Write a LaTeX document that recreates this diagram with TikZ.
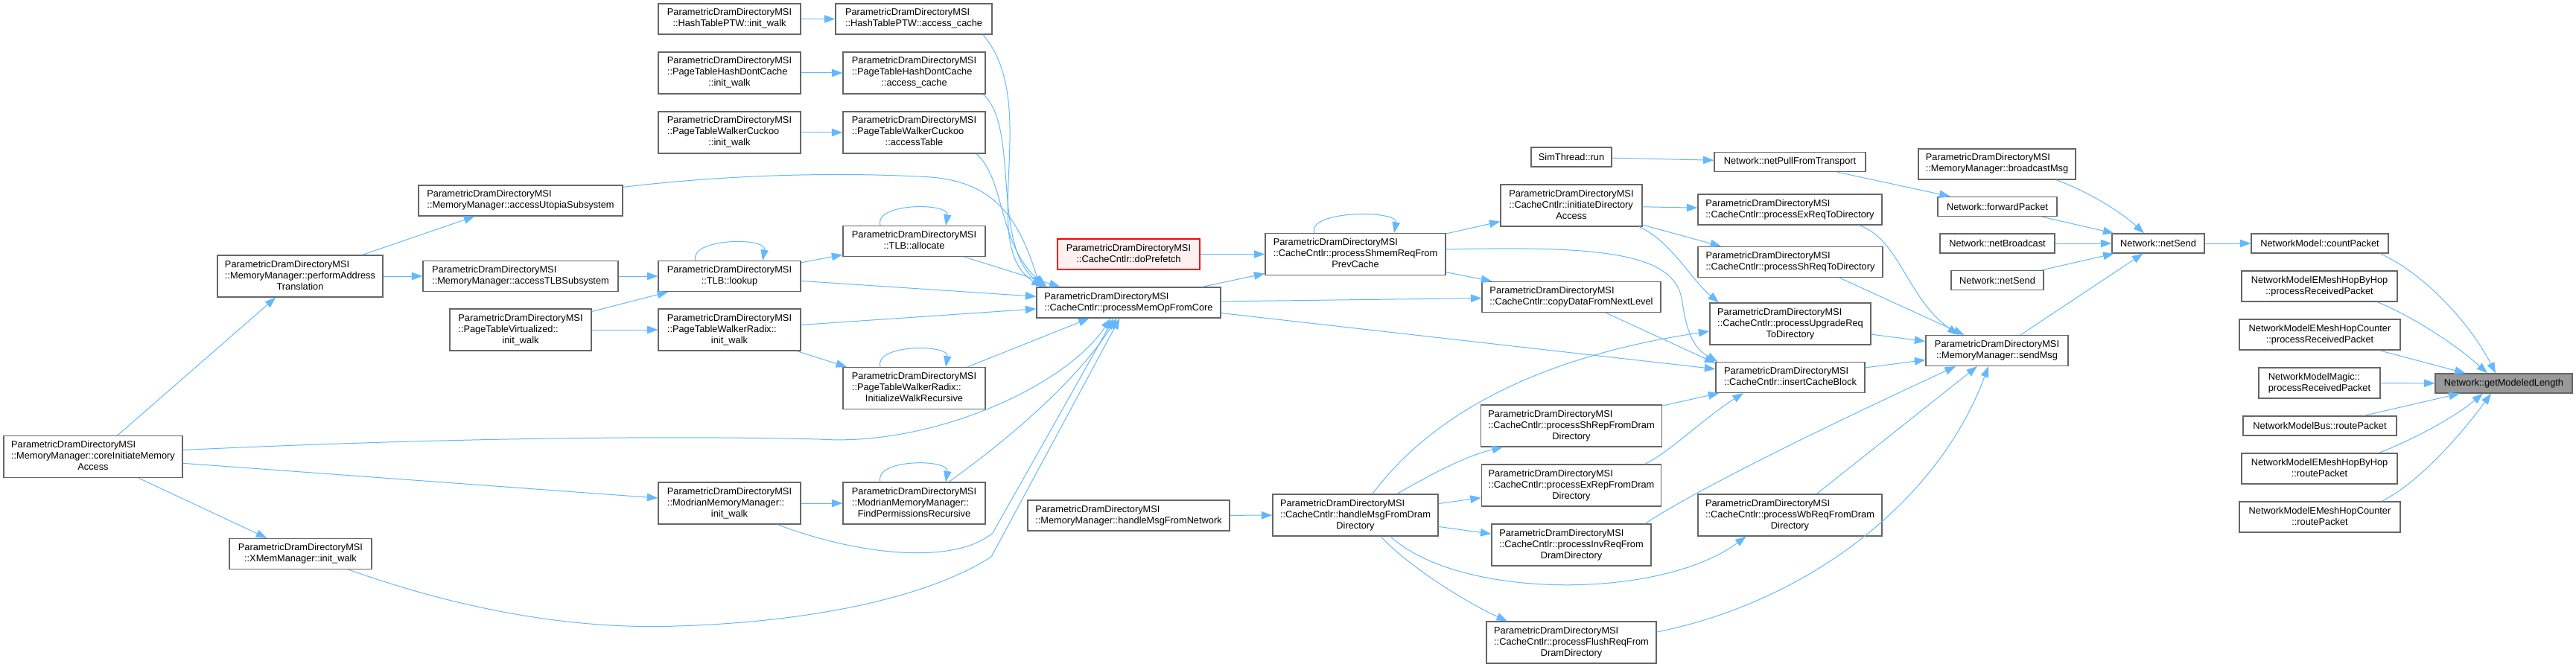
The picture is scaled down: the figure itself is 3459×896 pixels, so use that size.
\documentclass[tikz,border=0pt]{standalone}
\usepackage{fontspec}
\setmainfont{Liberation Sans}
\usetikzlibrary{arrows.meta}
\definecolor{edgeblue}{HTML}{63B8FF}
\definecolor{boxline}{HTML}{666666}
\definecolor{hilite}{HTML}{999999}
\definecolor{pinkfill}{HTML}{FFF0F0}
\definecolor{redline}{HTML}{FF0000}
\newcommand{\lbl}[2]{\begin{tabular}{@{}l@{}}#1\\\multicolumn{1}{@{}c@{}}{#2}\end{tabular}}

\begin{document}
\begin{tikzpicture}[x=1pt,y=-1pt,>={Triangle[length=14.5pt,width=10.5pt]},
  every node/.style={font=\fontsize{12.8}{15}\selectfont},
  box/.style={draw=boxline,line width=1.3pt,fill=white,inner sep=0pt},
  h1/.style={box,minimum height=26pt},
  h2/.style={box,minimum height=41pt},
  h3/.style={box,minimum height=56pt},
  call/.style={->,draw=edgeblue,line width=1pt}]
\useasboundingbox (0,0) rectangle (3459,896);

\node[h3,minimum width=240pt] (core) at (125,613.5) {\lbl{ParametricDramDirectoryMSI\\::MemoryManager::coreInitiateMemory}{Access}};
\node[h3,minimum width=222pt] (perf) at (403,371) {\lbl{ParametricDramDirectoryMSI\\::MemoryManager::performAddress}{Translation}};
\node[h2,minimum width=191pt] (xmem) at (403.5,744) {\lbl{ParametricDramDirectoryMSI}{::XMemManager::init\_walk}};
\node[h2,minimum width=274pt] (utopia) at (699,269.5) {\lbl{ParametricDramDirectoryMSI}{::MemoryManager::accessUtopiaSubsystem}};
\node[h2,minimum width=262pt] (tlbsub) at (699,371) {\lbl{ParametricDramDirectoryMSI}{::MemoryManager::accessTLBSubsystem}};
\node[h3,minimum width=190pt] (ptvirt) at (699,443) {\lbl{ParametricDramDirectoryMSI\\::PageTableVirtualized::}{init\_walk}};
\node[h2,minimum width=191pt] (hashinit) at (979.5,25.5) {\lbl{ParametricDramDirectoryMSI}{::HashTablePTW::init\_walk}};
\node[h3,minimum width=191pt] (hdcinit) at (979.5,98) {\lbl{ParametricDramDirectoryMSI\\::PageTableHashDontCache}{::init\_walk}};
\node[h3,minimum width=191pt] (cuckinit) at (979.5,178) {\lbl{ParametricDramDirectoryMSI\\::PageTableWalkerCuckoo}{::init\_walk}};
\node[h2,minimum width=191pt] (lookup) at (979.5,371) {\lbl{ParametricDramDirectoryMSI}{::TLB::lookup}};
\node[h3,minimum width=191pt] (radixinit) at (979.5,443) {\lbl{ParametricDramDirectoryMSI\\::PageTableWalkerRadix::}{init\_walk}};
\node[h3,minimum width=191pt] (modinit) at (979.5,676) {\lbl{ParametricDramDirectoryMSI\\::ModrianMemoryManager::}{init\_walk}};
\node[h2,minimum width=210pt] (hashacc) at (1227,25.5) {\lbl{ParametricDramDirectoryMSI}{::HashTablePTW::access\_cache}};
\node[h3,minimum width=191pt] (hdcacc) at (1227.5,98) {\lbl{ParametricDramDirectoryMSI\\::PageTableHashDontCache}{::access\_cache}};
\node[h3,minimum width=191pt] (cuckacc) at (1227.5,178) {\lbl{ParametricDramDirectoryMSI\\::PageTableWalkerCuckoo}{::accessTable}};
\node[h2,minimum width=191pt] (alloc) at (1227.5,324) {\lbl{ParametricDramDirectoryMSI}{::TLB::allocate}};
\node[h3,minimum width=191pt] (initrec) at (1227.5,521.5) {\lbl{ParametricDramDirectoryMSI\\::PageTableWalkerRadix::}{InitializeWalkRecursive}};
\node[h3,minimum width=191pt] (findperm) at (1227.5,676) {\lbl{ParametricDramDirectoryMSI\\::ModrianMemoryManager::}{FindPermissionsRecursive}};
\node[h2,minimum width=191pt,draw=redline,fill=pinkfill] (prefetch) at (1515.5,341.5) {\lbl{ParametricDramDirectoryMSI}{::CacheCntlr::doPrefetch}};
\node[h2,minimum width=247pt] (memop) at (1515.5,406.5) {\lbl{ParametricDramDirectoryMSI}{::CacheCntlr::processMemOpFromCore}};
\node[h2,minimum width=271pt] (hmnet) at (1515.5,692.5) {\lbl{ParametricDramDirectoryMSI}{::MemoryManager::handleMsgFromNetwork}};
\node[h3,minimum width=242pt] (shmem) at (1820,341.5) {\lbl{ParametricDramDirectoryMSI\\::CacheCntlr::processShmemReqFrom}{PrevCache}};
\node[h3,minimum width=222pt] (hmdram) at (1820,692) {\lbl{ParametricDramDirectoryMSI\\::CacheCntlr::handleMsgFromDram}{Directory}};
\node[h1,minimum width=108pt] (simrun) at (2110,211) {SimThread::run};
\node[h3,minimum width=190pt] (initdir) at (2110,276) {\lbl{ParametricDramDirectoryMSI\\::CacheCntlr::initiateDirectory}{Access}};
\node[h2,minimum width=240pt] (copydata) at (2110,399) {\lbl{ParametricDramDirectoryMSI}{::CacheCntlr::copyDataFromNextLevel}};
\node[h3,minimum width=243pt] (shrep) at (2110,572) {\lbl{ParametricDramDirectoryMSI\\::CacheCntlr::processShRepFromDram}{Directory}};
\node[h3,minimum width=241pt] (exrep) at (2110,652) {\lbl{ParametricDramDirectoryMSI\\::CacheCntlr::processExRepFromDram}{Directory}};
\node[h3,minimum width=214pt] (invreq) at (2110,732) {\lbl{ParametricDramDirectoryMSI\\::CacheCntlr::processInvReqFrom}{DramDirectory}};
\node[h3,minimum width=228pt] (flushreq) at (2110,863) {\lbl{ParametricDramDirectoryMSI\\::CacheCntlr::processFlushReqFrom}{DramDirectory}};
\node[h1,minimum width=203pt] (pull) at (2403.5,217.5) {Network::netPullFromTransport};
\node[h2,minimum width=247pt] (exreq) at (2403.5,281.5) {\lbl{ParametricDramDirectoryMSI}{::CacheCntlr::processExReqToDirectory}};
\node[h2,minimum width=248pt] (shreq) at (2404,352) {\lbl{ParametricDramDirectoryMSI}{::CacheCntlr::processShReqToDirectory}};
\node[h3,minimum width=216pt] (upgr) at (2404,435) {\lbl{ParametricDramDirectoryMSI\\::CacheCntlr::processUpgradeReq}{ToDirectory}};
\node[h2,minimum width=200pt] (insert) at (2404,507) {\lbl{ParametricDramDirectoryMSI}{::CacheCntlr::insertCacheBlock}};
\node[h3,minimum width=247pt] (wbreq) at (2403.5,692) {\lbl{ParametricDramDirectoryMSI\\::CacheCntlr::processWbReqFromDram}{Directory}};
\node[h2,minimum width=211pt] (bcast) at (2681.5,220.5) {\lbl{ParametricDramDirectoryMSI}{::MemoryManager::broadcastMsg}};
\node[h1,minimum width=160pt] (fwd) at (2682,277.5) {Network::forwardPacket};
\node[h1,minimum width=154pt] (netbc) at (2682,327) {Network::netBroadcast};
\node[h1,minimum width=124pt] (netsendl) at (2682,376.5) {Network::netSend};
\node[h2,minimum width=191pt] (sendmsg) at (2681.5,471) {\lbl{ParametricDramDirectoryMSI}{::MemoryManager::sendMsg}};
\node[h1,minimum width=124pt] (netsend) at (2898,327) {Network::netSend};
\node[h1,minimum width=184pt] (count) at (3115,327) {NetworkModel::countPacket};
\node[h2,minimum width=209pt] (hbhrecv) at (3114.5,384.5) {\lbl{NetworkModelEMeshHopByHop}{::processReceivedPacket}};
\node[h2,minimum width=216pt] (hcrecv) at (3115,449.5) {\lbl{NetworkModelEMeshHopCounter}{::processReceivedPacket}};
\node[h2,minimum width=163pt] (magic) at (3114.5,514.5) {\lbl{NetworkModelMagic::}{processReceivedPacket}};
\node[h1,minimum width=206pt] (bus) at (3115,572) {NetworkModelBus::routePacket};
\node[h2,minimum width=209pt] (hbhroute) at (3114.5,629.5) {\lbl{NetworkModelEMeshHopByHop}{::routePacket}};
\node[h2,minimum width=216pt] (hcroute) at (3115,694.5) {\lbl{NetworkModelEMeshHopCounter}{::routePacket}};
\node[h1,minimum width=184pt,fill=hilite] (target) at (3362,515) {Network::getModeledLength};

\draw[call] (core) -- (perf);
\draw[call] (core) -- (xmem);
\draw[call] (core) -- (modinit);
\draw[call] ([yshift=9pt]core.east) .. controls (600,588) and (900,585) .. (1100,590) .. controls (1250,600) and (1430,520) .. ([xshift=-24pt]memop.south);
\draw[call] (perf) -- (utopia);
\draw[call] (perf) -- (tlbsub);
\draw[call] ([xshift=64.5pt]xmem.south) .. controls (650,830) and (800,845) .. (909,841) .. controls (1100,835) and (1250,800) .. (1331,748) -- ([xshift=-12pt]memop.south);
\draw[call] ([yshift=-3pt]utopia.north east) .. controls (1000,232) and (1150,232) .. (1250,238) .. controls (1340,245) and (1370,300) .. ([xshift=-119pt]memop.north);
\draw[call] (tlbsub) -- (lookup);
\draw[call] (ptvirt) -- (lookup);
\draw[call] (ptvirt) -- (radixinit);
\draw[call] (hashinit) -- (hashacc);
\draw[call] (hdcinit) -- (hdcacc);
\draw[call] (cuckinit) -- (cuckacc);
\draw[call] ([xshift=-45.5pt]lookup.north) .. controls (925,320) and (1030,318) .. ([xshift=44.5pt]lookup.north);
\draw[call] (lookup) -- (alloc);
\draw[call] (lookup) -- (memop);
\draw[call] (radixinit) -- (memop);
\draw[call] (radixinit) -- (initrec);
\draw[call] (modinit) -- (findperm);
\draw[call] ([xshift=64.5pt]modinit.south) .. controls (1150,745) and (1280,760) .. (1333,716) -- ([xshift=-20pt]memop.south);
\draw[call] ([xshift=93pt]hashacc.south) .. controls (1400,140) and (1310,330) .. ([xshift=-116pt]memop.north);
\draw[call] ([xshift=92.5pt]hdcacc.south) .. controls (1370,170) and (1330,330) .. ([xshift=-113pt]memop.north);
\draw[call] ([xshift=83.5pt]cuckacc.south) .. controls (1350,240) and (1340,330) .. ([xshift=-110pt]memop.north);
\draw[call] ([xshift=-45.5pt]alloc.north) .. controls (1173,272) and (1275,272) .. ([xshift=42.5pt]alloc.north);
\draw[call] (alloc) -- ([xshift=-92pt]memop.north);
\draw[call] ([xshift=-45.5pt]initrec.north) .. controls (1173,462) and (1275,462) .. ([xshift=42.5pt]initrec.north);
\draw[call] (initrec) -- (memop);
\draw[call] ([xshift=-45.5pt]findperm.north) .. controls (1173,616) and (1275,616) .. ([xshift=42.5pt]findperm.north);
\draw[call] ([xshift=46.5pt]findperm.north) .. controls (1340,600) and (1440,520) .. ([xshift=-16pt]memop.south);
\draw[call] (prefetch) -- (shmem);
\draw[call] (memop) -- (shmem);
\draw[call] (memop) -- (copydata);
\draw[call] (memop) -- (insert);
\draw[call] (hmnet) -- (hmdram);
\draw[call] ([xshift=-55pt]shmem.north) .. controls (1755,282) and (1878,282) .. ([xshift=52pt]shmem.north);
\draw[call] (shmem) -- (initdir);
\draw[call] (shmem) -- (copydata);
\draw[call] ([yshift=6.5pt]shmem.east) .. controls (2150,330) and (2245,340) .. (2258,400) .. controls (2265,450) and (2275,468) .. ([xshift=3pt]insert.north west);
\draw[call] ([xshift=56pt]hmdram.north) .. controls (1925,635) and (1970,612) .. ([xshift=-92pt]shrep.south);
\draw[call] (hmdram) -- (exrep);
\draw[call] (hmdram) -- (invreq);
\draw[call] ([xshift=34pt]hmdram.south) .. controls (1890,760) and (1970,810) .. ([xshift=-86pt]flushreq.north);
\draw[call] ([xshift=47pt]hmdram.south) .. controls (1960,806) and (2230,806) .. ([xshift=-59pt]wbreq.south);
\draw[call] ([xshift=23pt]hmdram.north) .. controls (1920,560) and (2060,480) .. ([yshift=-10pt]upgr.west);
\draw[call] (simrun) -- (pull);
\draw[call] (initdir) -- (exreq);
\draw[call] (initdir) -- ([xshift=-93pt]shreq.north);
\draw[call] ([xshift=91pt]initdir.south) .. controls (2245,325) and (2270,375) .. ([xshift=-96pt]upgr.north);
\draw[call] (copydata) -- ([yshift=-2pt]insert.north west);
\draw[call] (shrep) -- (insert);
\draw[call] ([xshift=99pt]exrep.north) .. controls (2245,605) and (2290,560) .. ([xshift=-63pt]insert.south);
\draw[call] ([xshift=99pt]invreq.north) .. controls (2240,683) and (2330,629) .. ([xshift=-55.5pt]sendmsg.south);
\draw[call] ([yshift=14pt]flushreq.east) .. controls (2420,810) and (2600,680) .. ([xshift=-11.5pt]sendmsg.south);
\draw[call] (pull) -- (fwd);
\draw[call] ([xshift=92.5pt]exreq.south) .. controls (2550,320) and (2560,400) .. ([xshift=-52pt]sendmsg.north);
\draw[call] ([xshift=66pt]shreq.south) -- ([xshift=-44pt]sendmsg.north);
\draw[call] (upgr) -- (sendmsg);
\draw[call] (insert) -- (sendmsg);
\draw[call] (wbreq) -- (sendmsg);
\draw[call] ([xshift=79.5pt]bcast.south) .. controls (2800,256) and (2845,282) .. ([xshift=-19pt]netsend.north);
\draw[call] (fwd) -- (netsend);
\draw[call] (netbc) -- (netsend);
\draw[call] (netsendl) -- (netsend);
\draw[call] (sendmsg) -- (netsend);
\draw[call] (netsend) -- (count);
\draw[call] ([xshift=81pt]count.south) .. controls (3260,370) and (3320,440) .. ([xshift=-11pt]target.north);
\draw[call] ([xshift=77.5pt]hbhrecv.south) .. controls (3240,425) and (3300,465) .. ([xshift=-22pt]target.north);
\draw[call] (hcrecv) -- (target);
\draw[call] (magic) -- (target);
\draw[call] (bus) -- (target);
\draw[call] ([xshift=79.5pt]hbhroute.north) .. controls (3230,595) and (3290,565) .. ([xshift=-28pt]target.south);
\draw[call] ([xshift=83pt]hcroute.north) .. controls (3245,650) and (3300,590) .. ([xshift=-17pt]target.south);
\end{tikzpicture}
\end{document}
